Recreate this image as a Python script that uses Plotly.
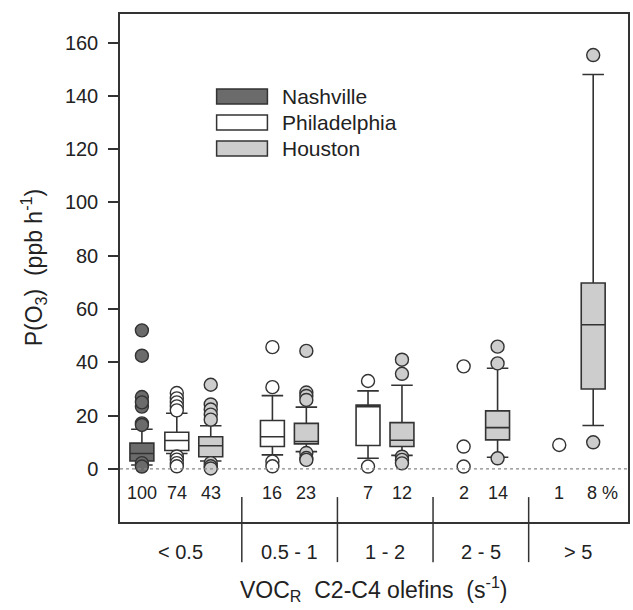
import plotly.graph_objects as go

# ---------------- data ----------------
groups = ["< 0.5", "0.5 - 1", "1 - 2", "2 - 5", "> 5"]
series = ["Nashville", "Philadelphia", "Houston"]

# box statistics per group (None = no box drawn)
nash_q1 = [3.0, None, None, None, None]
nash_med = [5.8, None, None, None, None]
nash_q3 = [9.7, None, None, None, None]
nash_lo = [1.5, None, None, None, None]
nash_hi = [14.9, None, None, None, None]
nash_out = [[52, 42.5, 27, 23.4, 25.0, 17.1, 16.5, 2.2, 0.9], [], [], [], []]
nash_n = ["100", "", "", "", ""]

phil_q1 = [6.9, 8.4, 8.8, None, None]
phil_med = [10.7, 12.1, 23.4, None, None]
phil_q3 = [13.8, 18.2, 24.0, None, None]
phil_lo = [5.8, 5.3, 4.0, None, None]
phil_hi = [20.9, 27.5, 29.3, None, None]
phil_out = [[28.5, 26.5, 25.0, 23.5, 22.0, 4.7, 3.5, 2.2, 1.0],
            [45.7, 30.7, 2.8, 1.0],
            [33.0, 0.9],
            [38.5, 8.4, 0.9],
            [9.0]]
phil_n = ["74", "16", "7", "2", "1"]

hou_q1 = [4.6, 9.4, 8.4, 10.9, 30.0]
hou_med = [8.7, 10.3, 10.8, 15.5, 54.1]
hou_q3 = [12.1, 17.1, 17.4, 21.8, 69.8]
hou_lo = [3.0, 6.5, 5.1, 4.4, 16.3]
hou_hi = [16.2, 23.2, 31.4, 37.8, 148.0]
hou_out = [[31.6, 24.2, 22.3, 20.4, 18.5, 2.2, 1.0, 0.2],
           [44.3, 28.7, 27.4, 25.9, 6.0, 4.1, 3.4],
           [41.0, 35.7, 4.6, 3.4, 2.1],
           [45.9, 39.6, 4.0],
           [155.3, 10.0]]
hou_n = ["43", "23", "12", "14", "8 %"]

yticks = [0, 20, 40, 60, 80, 100, 120, 140, 160]

# ---------------- style ----------------
FONT = "Arial, Liberation Sans, sans-serif"
EDGE = "#333333"
TXT = "#222222"
fills = {"Nashville": "#6b6b6b", "Philadelphia": "#ffffff", "Houston": "#cdcdcd"}
offsets = {"Nashville": -0.365, "Philadelphia": 0.0, "Houston": 0.355}

data = {
    "Nashville": (nash_q1, nash_med, nash_q3, nash_lo, nash_hi, nash_out, nash_n),
    "Philadelphia": (phil_q1, phil_med, phil_q3, phil_lo, phil_hi, phil_out, phil_n),
    "Houston": (hou_q1, hou_med, hou_q3, hou_lo, hou_hi, hou_out, hou_n),
}

fig = go.Figure()
annotations = []

for name in series:
    q1, med, q3, lo, hi, outs, ns = data[name]
    xs, a1, am, a3, al, ah = [], [], [], [], [], []
    ox, oy = [], []
    for g in range(len(groups)):
        pos = g + offsets[name]
        if q1[g] is not None:
            xs.append(pos); a1.append(q1[g]); am.append(med[g]); a3.append(q3[g])
            al.append(lo[g]); ah.append(hi[g])
        for v in outs[g]:
            ox.append(pos); oy.append(v)
        if ns[g]:
            annotations.append(dict(x=pos + (0.1 if ns[g].endswith("%") else 0), y=-9,
                                    xref="x", yref="y", text=ns[g], showarrow=False,
                                    font=dict(family=FONT, size=18, color=TXT),
                                    xanchor="center", yanchor="middle"))
    if xs:
        fig.add_trace(go.Box(x=xs, q1=a1, median=am, q3=a3, lowerfence=al, upperfence=ah,
                             boxpoints=False, width=0.25, whiskerwidth=0.9,
                             fillcolor=fills[name], line=dict(color=EDGE, width=1.6),
                             name=name, showlegend=False, hoverinfo="skip"))
    fig.add_trace(go.Scatter(x=ox, y=oy, mode="markers", showlegend=False,
                             marker=dict(size=13, color=fills[name],
                                         line=dict(color=EDGE, width=1.4)),
                             hoverinfo="skip"))

shapes = []
# zero dotted line
shapes.append(dict(type="line", xref="paper", yref="y", x0=0, x1=1, y0=0, y1=0,
                   line=dict(color="#888888", width=1.2, dash="dot")))
# group separators (between groups), crossing bottom frame
seps = [g + 0.68 for g in range(len(groups) - 1)]
for s in seps:
    shapes.append(dict(type="line", xref="x", yref="paper", x0=s, x1=s,
                       y0=0.049, y1=-0.079, line=dict(color=EDGE, width=1.5)))

xmin, xmax = -0.594, 4.719
bounds = [xmin] + seps + [xmax]
for g, lab in enumerate(groups):
    annotations.append(dict(x=(bounds[g] + bounds[g + 1]) / 2, y=-0.059, xref="x", yref="paper",
                            text=lab, showarrow=False, xanchor="center", yanchor="middle",
                            font=dict(family=FONT, size=20, color=TXT)))

# custom legend
for i, name in enumerate(series):
    top = 89 + 26 * i
    y0 = (522 - (top + 15)) / 508
    y1 = (522 - top) / 508
    shapes.append(dict(type="rect", xref="paper", yref="paper",
                       x0=(217 - 120) / 510, x1=(268 - 120) / 510, y0=y0, y1=y1,
                       fillcolor=fills[name], line=dict(color=EDGE, width=1.5)))
    annotations.append(dict(x=(281 - 120) / 510, y=(y0 + y1) / 2, xref="paper", yref="paper",
                            text=name, showarrow=False, xanchor="left", yanchor="middle",
                            font=dict(family=FONT, size=21, color=TXT)))

# axis titles
annotations.append(dict(x=(375 - 120) / 510, y=(522 - 589) / 508, xref="paper", yref="paper",
                        text="VOC<sub>R</sub>\u00a0\u00a0C2-C4 olefins\u00a0\u00a0(s<sup>-1</sup>)",
                        showarrow=False, xanchor="center", yanchor="middle",
                        font=dict(family=FONT, size=23, color=TXT)))
annotations.append(dict(x=(33 - 120) / 510, y=0.5, xref="paper", yref="paper",
                        text="P(O<sub>3</sub>)\u00a0\u00a0(ppb h<sup>-1</sup>)", textangle=-90,
                        showarrow=False, xanchor="center", yanchor="middle",
                        font=dict(family=FONT, size=23, color=TXT)))

fig.update_layout(
    width=633, height=610,
    margin=dict(l=120, r=3, t=14, b=88),
    paper_bgcolor="white", plot_bgcolor="white",
    boxmode="overlay",
    shapes=shapes, annotations=annotations,
    xaxis=dict(range=[xmin, xmax], showgrid=False, zeroline=False, showticklabels=False,
               ticks="", showline=True, mirror=True, linecolor=EDGE, linewidth=1.5),
    yaxis=dict(range=[-19.9, 170.7], tickvals=yticks, showgrid=False, zeroline=False,
               ticks="outside", ticklen=10, tickwidth=1.5, tickcolor=EDGE,
               showline=True, mirror=True, linecolor=EDGE, linewidth=1.5,
               ticklabelstandoff=6,
               tickfont=dict(family=FONT, size=20, color=TXT)),
)

fig.write_html("out.html")
